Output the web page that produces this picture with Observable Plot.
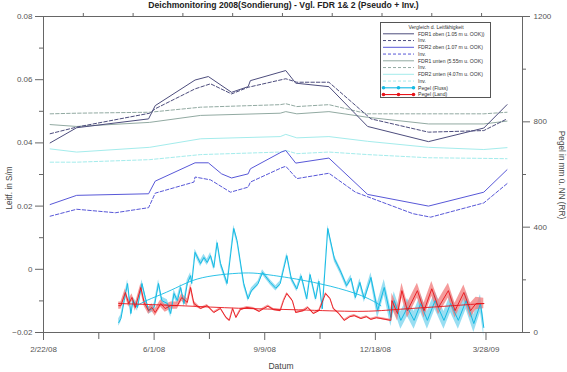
<!DOCTYPE html>
<html>
<head>
<meta charset="utf-8">
<script src="https://cdn.jsdelivr.net/npm/d3@7"></script>
<script src="https://cdn.jsdelivr.net/npm/@observablehq/plot@0.6"></script>
<style>
  body { margin: 0; background: #fff; }
  #wrap { position: relative; width: 567px; height: 372px; font-family: "Liberation Sans", Arial, sans-serif; }
  #title { position: absolute; left: 0; top: 0; width: 567px; text-align: center; font-size: 8.6px; font-weight: bold; color: #222; line-height: 11px; }
  .ylab { position: absolute; font-size: 8.2px; color: #444; white-space: nowrap; }
  #legend { position: absolute; left: 380px; top: 22px; width: 111px; height: 76px; border: 1px solid #555; background: #fff; box-sizing: border-box; }
</style>
</head>
<body>
<div id="wrap">
  <div id="chart"></div>
  <div id="title">Deichmonitoring 2008(Sondierung) - Vgl. FDR 1&amp; 2 (Pseudo + Inv.)</div>
  <div class="ylab" style="left:9px;top:188px;transform:translate(-50%,-50%) rotate(-90deg);">Leitf. in S/m</div>
  <div class="ylab" style="left:561px;top:175px;transform:translate(-50%,-50%) rotate(90deg);">Pegel in mm ü. NN (RR)</div>
  <div class="ylab" style="left:281px;top:366px;transform:translate(-50%,-50%);font-size:8.5px;">Datum</div>
  <div id="legend"></div>
</div>
<script>
// ---------- axis ticks ----------
const xMajorTicks = ["2008-02-22","2008-06-01","2008-09-09","2008-12-18","2009-03-28"];
const xMinorTicks = ["2008-04-12","2008-07-21","2008-10-29","2009-02-06"];
const xTopTicks = ["2008-03-29","2008-05-13","2008-06-27","2008-08-11","2008-09-25","2008-11-09","2008-12-24","2009-02-07","2009-03-24"];
const xDomain = ["2008-02-22","2009-04-30"];
const leitfTicks = [-0.02, 0, 0.02, 0.04, 0.06, 0.08];
const leitfMinorTicks = [-0.01, 0.01, 0.03, 0.05, 0.07];
const pegelTicks = [0, 400, 800, 1200];
const pegelMinorTicks = [200, 600, 1000];

// ---------- FDR conductivity series (S/m) ----------
const fdr1ObenDates = ["2008-02-28","2008-03-23","2008-05-27","2008-06-02","2008-07-08","2008-07-20","2008-08-10","2008-08-25","2008-08-27","2008-09-28","2008-10-07","2008-11-06","2008-12-11","2009-02-04","2009-03-26","2009-04-16"];
const fdr1Oben = [0.0400,0.0448,0.0476,0.0518,0.0599,0.0610,0.0560,0.0578,0.0597,0.0629,0.0589,0.0578,0.0452,0.0404,0.0447,0.0521];

const fdr1ObenInvDates = ["2008-02-28","2008-03-23","2008-05-28","2008-06-02","2008-07-08","2008-07-22","2008-08-10","2008-08-25","2008-09-28","2008-10-08","2008-11-06","2008-12-14","2009-02-04","2009-03-26","2009-04-16"];
const fdr1ObenInv = [0.0429,0.0450,0.0494,0.0508,0.0571,0.0587,0.0555,0.0576,0.0603,0.0592,0.0592,0.0476,0.0434,0.0439,0.0476];

const fdr2ObenDates = ["2008-02-28","2008-03-23","2008-05-27","2008-06-02","2008-07-08","2008-07-20","2008-08-01","2008-08-10","2008-08-25","2008-08-27","2008-09-24","2008-09-28","2008-10-07","2008-11-06","2008-12-11","2009-02-04","2009-03-26","2009-04-16"];
const fdr2Oben = [0.0205,0.0234,0.0239,0.0279,0.0337,0.0337,0.0302,0.0289,0.0302,0.0318,0.0371,0.0376,0.0336,0.0352,0.0237,0.0200,0.0244,0.0315];

const fdr2ObenInvDates = ["2008-02-28","2008-03-23","2008-04-27","2008-05-27","2008-06-02","2008-07-07","2008-07-08","2008-07-22","2008-08-09","2008-08-25","2008-08-27","2008-09-24","2008-09-28","2008-10-08","2008-11-06","2008-11-30","2009-01-21","2009-02-06","2009-03-26","2009-04-16"];
const fdr2ObenInv = [0.0168,0.0190,0.0179,0.0195,0.0241,0.0276,0.0292,0.0283,0.0244,0.0260,0.0276,0.0321,0.0326,0.0287,0.0304,0.0244,0.0176,0.0165,0.0210,0.0271];

const fdrUntenDates = ["2008-02-28","2008-03-23","2008-05-28","2008-07-13","2008-09-23","2008-09-28","2008-10-08","2008-11-06","2008-12-11","2009-02-04","2009-03-26","2009-04-16"];
const fdr1Unten    = [0.0458,0.0452,0.0465,0.0487,0.0494,0.0499,0.0492,0.0499,0.0481,0.0460,0.0460,0.0469];
const fdr1UntenInv = [0.0492,0.0494,0.0497,0.0513,0.0521,0.0524,0.0515,0.0521,0.0492,0.0492,0.0492,0.0497];
const fdr2Unten    = [0.0381,0.0371,0.0386,0.0413,0.0420,0.0427,0.0416,0.0420,0.0405,0.0386,0.0379,0.0385];
const fdr2UntenInv = [0.0339,0.0339,0.0347,0.0363,0.0371,0.0376,0.0366,0.0371,0.0363,0.0353,0.0351,0.0350];

// ---------- Pegel (mm ü. NN) ----------
const flussDates = ["2008-04-30","2008-05-02","2008-05-05","2008-05-08","2008-05-11","2008-05-13","2008-05-17","2008-05-21","2008-05-24","2008-05-27","2008-06-01","2008-06-05","2008-06-08","2008-06-13","2008-06-16","2008-06-19","2008-06-22","2008-06-25","2008-06-28","2008-07-01","2008-07-04","2008-07-05","2008-07-08","2008-07-13","2008-07-16","2008-07-19","2008-07-22","2008-07-25","2008-07-28","2008-07-31","2008-08-06","2008-08-12","2008-08-15","2008-08-21","2008-08-25","2008-08-28","2008-09-03","2008-09-07","2008-09-14","2008-09-19","2008-09-23","2008-09-29","2008-10-03","2008-10-08","2008-10-12","2008-10-17","2008-10-20","2008-10-25","2008-10-28","2008-10-31","2008-11-05","2008-11-11","2008-11-17","2008-11-22","2008-11-26","2008-11-30","2008-12-04","2008-12-08","2008-12-14","2008-12-20","2008-12-26","2009-01-01","2009-01-04","2009-01-10","2009-01-16","2009-01-22","2009-01-28","2009-02-03","2009-02-10","2009-02-18","2009-02-24","2009-03-03","2009-03-10","2009-03-17","2009-03-23","2009-03-26"];
const flussValues = [38,53,121,186,72,121,95,186,133,83,95,186,121,110,72,148,121,171,110,186,216,186,304,262,285,266,292,247,341,262,186,395,349,186,128,159,186,228,190,168,186,292,205,165,215,128,220,128,195,90,395,280,228,178,206,133,190,128,209,83,171,57,121,46,95,46,110,46,121,46,110,46,121,34,110,19];
const flussSpread = [14,14,14,14,14,14,14,14,14,14,14,14,14,14,14,14,14,14,14,14,12,12,12,12,12,12,12,12,12,12,12,12,12,12,10,10,10,10,10,10,10,10,10,10,10,10,10,10,10,10,12,12,12,12,12,12,14,14,18,30,30,34,34,34,34,34,34,34,34,34,34,34,34,34,34,34];

const landDates = ["2008-04-30","2008-05-02","2008-05-06","2008-05-09","2008-05-12","2008-05-15","2008-05-20","2008-05-23","2008-05-27","2008-05-30","2008-06-02","2008-06-07","2008-06-11","2008-06-16","2008-06-22","2008-06-26","2008-07-01","2008-07-04","2008-07-07","2008-07-13","2008-07-19","2008-07-25","2008-07-31","2008-08-05","2008-08-08","2008-08-11","2008-08-14","2008-08-18","2008-08-24","2008-08-30","2008-09-04","2008-09-08","2008-09-12","2008-09-17","2008-09-23","2008-09-26","2008-09-29","2008-10-04","2008-10-07","2008-10-14","2008-10-18","2008-10-23","2008-10-28","2008-11-03","2008-11-07","2008-11-10","2008-11-15","2008-11-20","2008-11-25","2008-11-29","2008-12-05","2008-12-10","2008-12-14","2008-12-19","2008-12-23","2009-01-01","2009-01-02","2009-01-07","2009-01-11","2009-01-16","2009-01-25","2009-01-31","2009-02-07","2009-02-13","2009-02-22","2009-02-28","2009-03-08","2009-03-14","2009-03-19","2009-03-26"];
const landValues = [102,102,152,110,133,95,171,114,83,95,76,110,91,102,102,133,114,171,110,91,102,76,91,57,46,91,57,87,95,91,80,91,100,87,83,121,148,121,76,83,95,72,83,148,129,91,72,46,60,64,53,60,50,56,53,46,121,72,159,83,159,83,166,95,159,83,152,83,110,110];
const landSpread = [14,14,14,14,14,14,14,14,14,14,14,14,14,14,14,14,14,14,10,4,4,4,4,4,4,4,4,4,4,4,4,4,4,4,4,4,4,4,4,4,4,4,4,4,4,4,4,4,4,4,4,4,4,4,4,4,28,28,28,28,28,28,28,28,28,28,28,28,24,20];

const flussTrendDates = ["2008-05-16","2008-05-24","2008-06-13","2008-06-28","2008-07-13","2008-08-06","2008-08-27","2008-09-08","2008-10-08","2008-11-07","2008-12-08","2008-12-23"];
const flussTrend = [100,121,153,185,210,223,228,222,204,178,140,102];
const landTrendDates = ["2008-04-30","2008-06-28","2008-08-15","2008-10-09","2008-12-07","2009-01-03","2009-02-03","2009-03-26"];
const landTrend = [110,102,91,87,77,87,95,110];

// ---------- helpers ----------
const parse = d3.utcParse("%Y-%m-%d");
const toAxis = mm => -0.02 + mm * 0.1 / 1200;   // right axis (0..1200 mm) -> left axis (-0.02..0.08)
const series = (dates, vals, extra) => dates.map((d, i) => ({date: parse(d), v: vals[i], s: extra ? extra[i] : 0}));

const C = {
  fdr1o: "#4d4d7d", fdr2o: "#5858d8", fdr1u: "#92aaa2", fdr2u: "#a4ecec",
  fluss: "#14bbe4", flussBand: "#7fd6ef", land: "#e8141a", landBand: "#f27a7a"
};
const dash = "3.5,2";

const fluss = series(flussDates, flussValues, flussSpread);
const land = series(landDates, landValues, landSpread);

const line = (data, stroke, dashed, w = 1) =>
  Plot.line(data, {x: "date", y: "v", stroke, strokeWidth: w, strokeDasharray: dashed ? dash : null});

const fmt = d3.utcFormat("%-m/%-d/%y");

const chart = Plot.plot({
  width: 567, height: 372,
  marginLeft: 43, marginRight: 45, marginTop: 16, marginBottom: 40,
  style: {fontFamily: "Liberation Sans, Arial, sans-serif", fontSize: "8px", color: "#555", background: "#fff"},
  x: {type: "utc", domain: xDomain.map(parse), label: null},
  y: {domain: [-0.02, 0.08], label: null},
  marks: [
    // Pegel bands
    Plot.areaY(fluss, {x: "date", y1: d => toAxis(d.v - d.s), y2: d => toAxis(d.v + d.s), fill: C.flussBand, fillOpacity: 0.8}),
    Plot.areaY(land, {x: "date", y1: d => toAxis(d.v - d.s), y2: d => toAxis(d.v + d.s), fill: C.landBand, fillOpacity: 0.75}),
    Plot.line(fluss, {x: "date", y: d => toAxis(d.v), stroke: C.fluss, strokeWidth: 1}),
    Plot.line(land, {x: "date", y: d => toAxis(d.v), stroke: C.land, strokeWidth: 0.9}),
    Plot.line(series(flussTrendDates, flussTrend), {x: "date", y: d => toAxis(d.v), stroke: C.fluss, strokeWidth: 0.9, curve: "basis"}),
    Plot.line(series(landTrendDates, landTrend), {x: "date", y: d => toAxis(d.v), stroke: C.land, strokeWidth: 0.9, curve: "basis"}),
    // FDR lines
    line(series(fdrUntenDates, fdr2UntenInv), C.fdr2u, true),
    line(series(fdrUntenDates, fdr2Unten), C.fdr2u, false),
    line(series(fdrUntenDates, fdr1UntenInv), C.fdr1u, true),
    line(series(fdrUntenDates, fdr1Unten), C.fdr1u, false),
    line(series(fdr2ObenInvDates, fdr2ObenInv), C.fdr2o, true),
    line(series(fdr2ObenDates, fdr2Oben), C.fdr2o, false),
    line(series(fdr1ObenInvDates, fdr1ObenInv), C.fdr1o, true),
    line(series(fdr1ObenDates, fdr1Oben), C.fdr1o, false),
    // frame & axes
    Plot.frame({stroke: "#666", strokeWidth: 1}),
    Plot.axisY({ticks: leitfTicks, tickSize: 8, tickPadding: 3, tickFormat: d => d === 0 ? "0" : d3.format(".2f")(d), label: null, stroke: "#666"}),
    Plot.axisY({ticks: leitfMinorTicks, tickSize: 4, tickFormat: () => "", label: null, stroke: "#666"}),
    Plot.axisY({anchor: "right", ticks: pegelTicks.map(toAxis), tickSize: 7, tickPadding: 4, tickFormat: d => String(Math.round((d + 0.02) * 12000)), label: null, stroke: "#666"}),
    Plot.axisY({anchor: "right", ticks: pegelMinorTicks.map(toAxis), tickSize: 3, tickFormat: () => "", label: null, stroke: "#666"}),
    Plot.axisX({ticks: xMajorTicks.map(parse), tickSize: 8, tickPadding: 6, tickFormat: fmt, label: null, stroke: "#666"}),
    Plot.axisX({ticks: xMinorTicks.map(parse), tickSize: 7, tickFormat: () => "", label: null, stroke: "#666"}),
    Plot.axisX({anchor: "top", ticks: xTopTicks.map(parse), tickSize: 4, tickFormat: () => "", label: null, stroke: "#666"})
  ]
});
document.getElementById("chart").appendChild(chart);

// ---------- legend ----------
const legendItems = [
  {label: "FDR1 oben (1.05 m u. OOK))", color: C.fdr1o, dashed: false},
  {label: "Inv.", color: C.fdr1o, dashed: true},
  {label: "FDR2 oben (1.07 m u. OOK)", color: C.fdr2o, dashed: false},
  {label: "Inv.", color: C.fdr2o, dashed: true},
  {label: "FDR1 unten (5.55m u. OOK)", color: C.fdr1u, dashed: false},
  {label: "Inv.", color: C.fdr1u, dashed: true},
  {label: "FDR2 unten (4.07m u. OOK)", color: C.fdr2u, dashed: false},
  {label: "Inv.", color: C.fdr2u, dashed: true},
  {label: "Pegel (Fluss)", color: C.fluss, dashed: false, marker: true},
  {label: "Pegel (Land)", color: C.land, dashed: false, marker: true}
];
const lg = d3.select("#legend").append("svg").attr("width", 109).attr("height", 74)
  .style("font-family", "Liberation Sans, Arial, sans-serif").style("font-size", "5.1px").style("fill", "#333");
lg.append("text").attr("x", 55).attr("y", 5.6).attr("text-anchor", "middle").text("Vergleich d. Leitfähigkeit");
legendItems.forEach((it, i) => {
  const y = 10.8 + i * 6.75;
  lg.append("line").attr("x1", 2).attr("x2", 33).attr("y1", y).attr("y2", y)
    .attr("stroke", it.color).attr("stroke-width", it.marker ? 1.1 : 1).attr("stroke-dasharray", it.dashed ? "3,2" : null);
  if (it.marker) [2.5, 17.5, 32.5].forEach(cx => lg.append("circle").attr("cx", cx).attr("cy", y).attr("r", 1.8).attr("fill", it.color));
  lg.append("text").attr("x", 37).attr("y", y + 1.8).text(it.label);
});
</script>
</body>
</html>
